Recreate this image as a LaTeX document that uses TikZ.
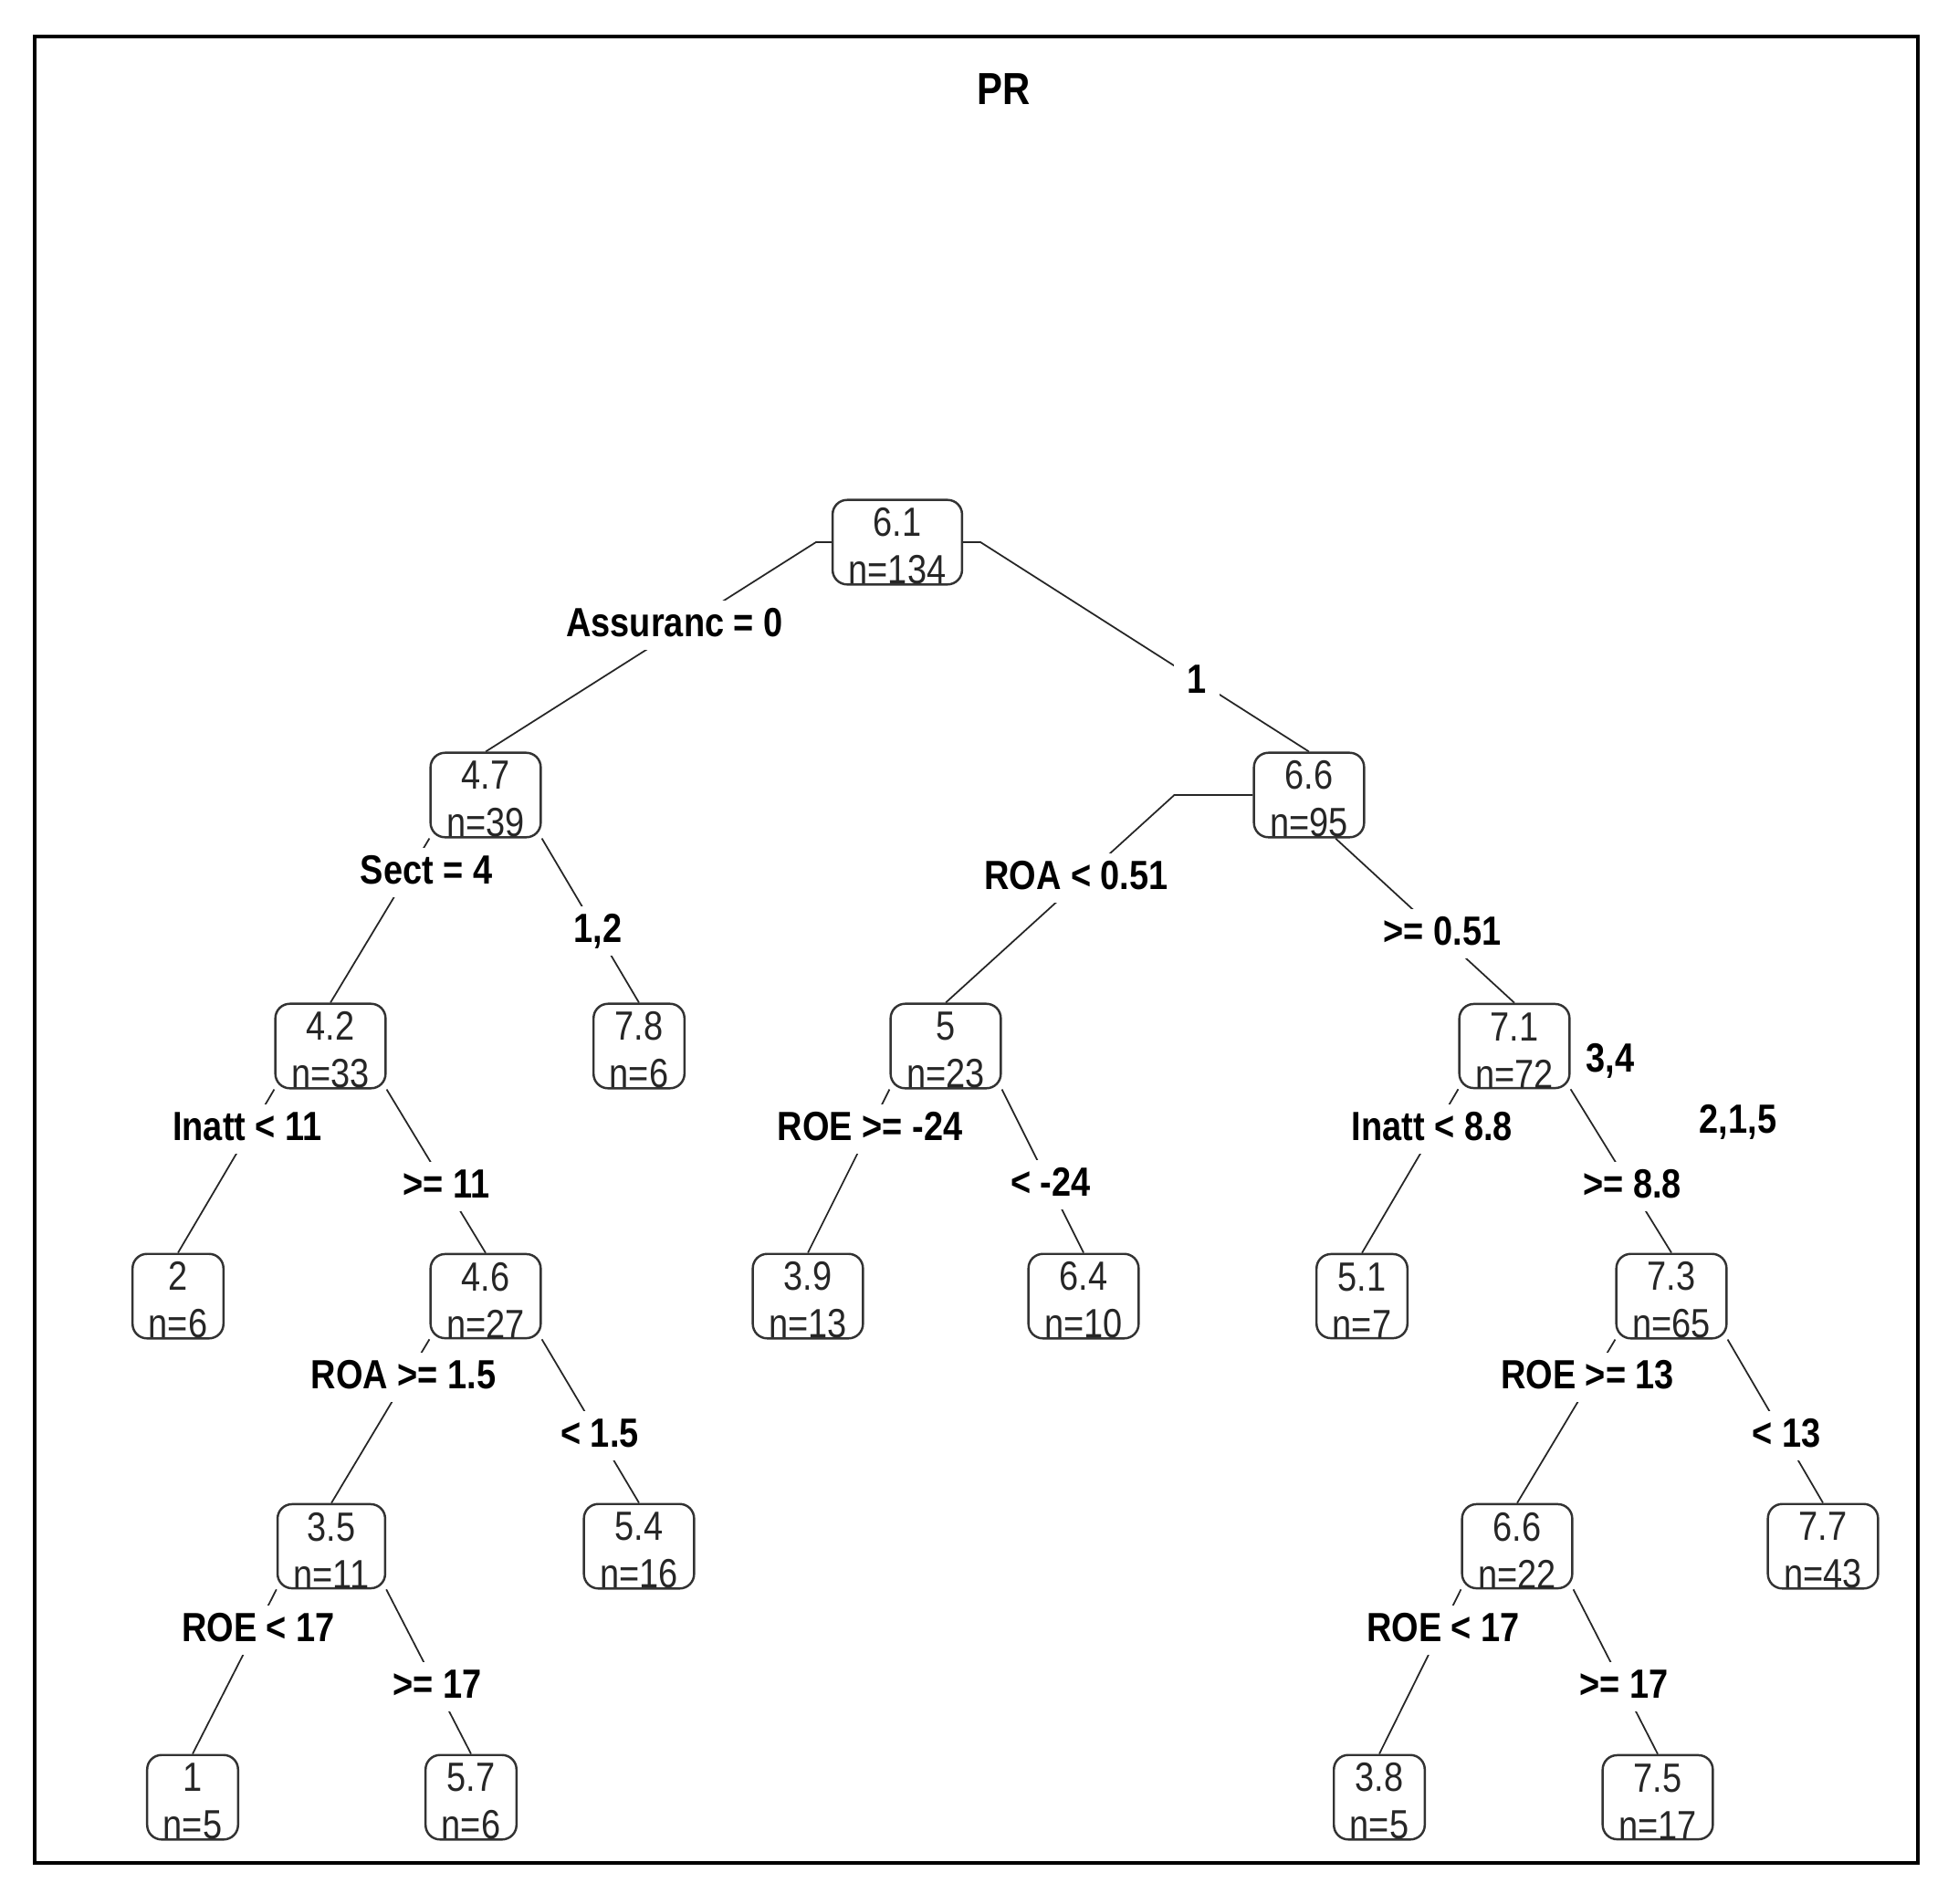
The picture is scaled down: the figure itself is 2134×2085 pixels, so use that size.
\documentclass[tikz,border=0pt]{standalone}
\usepackage{fontspec}
\setmainfont{Liberation Sans}[FakeStretch=0.85]
\usepackage{tikz}
\usetikzlibrary{calc, positioning, backgrounds}

\newcommand{\nodetxt}[2]{\rule{0pt}{11.4pt}#1\\n=#2}

\begin{document}
\begin{tikzpicture}[x=0.01cm, y=-0.01cm,
    box/.style={draw=black!80, fill=white, rounded corners=4.5pt, line width=0.7pt,
        inner xsep=5pt, inner ysep=0pt, align=center, text=black!85,
        font=\fontsize{12.7}{14.8}\selectfont},
    cond/.style={fill=white, inner sep=4pt, text height=0.72em, text depth=0pt,
        font=\bfseries\fontsize{12.7}{14.8}\selectfont},
    branch/.style={line width=0.5pt, black!85}]
    \useasboundingbox (0,0) rectangle (2134,2085);

    % Khung và tiêu đề
    \draw[line width=1pt] (38,40) rectangle (2101,2041);
    \node[font=\bfseries\fontsize{14}{16}\selectfont] (title) at (1100,98) {PR};

    % Các nút của cây
    \node[box] (n61) at (983,594) {\nodetxt{6.1}{134}};
    \node[box] (n47) at (532,871) {\nodetxt{4.7}{39}};
    \node[box] (n66) at (1434,871) {\nodetxt{6.6}{95}};
    \node[box] (n42) at (362,1146) {\nodetxt{4.2}{33}};
    \node[box] (n78) at (700,1146) {\nodetxt{7.8}{6}};
    \node[box] (n5) at (1036,1146) {\nodetxt{5}{23}};
    \node[box] (n71) at (1659,1146) {\nodetxt{7.1}{72}};
    \node[box] (n2) at (195,1420) {\nodetxt{2}{6}};
    \node[box] (n46) at (532,1420) {\nodetxt{4.6}{27}};
    \node[box] (n39) at (885,1420) {\nodetxt{3.9}{13}};
    \node[box] (n64) at (1187,1420) {\nodetxt{6.4}{10}};
    \node[box] (n51) at (1492,1420) {\nodetxt{5.1}{7}};
    \node[box] (n73) at (1831,1420) {\nodetxt{7.3}{65}};
    \node[box] (n35) at (363,1694) {\nodetxt{3.5}{11}};
    \node[box] (n54) at (700,1694) {\nodetxt{5.4}{16}};
    \node[box] (n66b) at (1662,1694) {\nodetxt{6.6}{22}};
    \node[box] (n77) at (1997,1694) {\nodetxt{7.7}{43}};
    \node[box] (n1) at (211,1969) {\nodetxt{1}{5}};
    \node[box] (n57) at (516,1969) {\nodetxt{5.7}{6}};
    \node[box] (n38) at (1511,1969) {\nodetxt{3.8}{5}};
    \node[box] (n75) at (1816,1969) {\nodetxt{7.5}{17}};

    % Điểm gấp của các nhánh
    \coordinate (k1) at ($(n61.west)+(-17,0)$);
    \coordinate (k2) at ($(n61.east)+(19,0)$);
    \coordinate (k3) at ($(n66.west)+(-86,0)$);
    \coordinate (k4) at ($(n66.south)+(29,0)$);

    % Các nhánh
    \begin{scope}[on background layer]
    \draw[branch] (n61.west) -- (k1) -- (n47.north);
    \draw[branch] (n61.east) -- (k2) -- (n66.north);
    \draw[branch] (n66.west) -- (k3) -- (n5.north);
    \draw[branch] (k4) -- (n71.north);
    \draw[branch] (n47.south west) -- (n42.north);
    \draw[branch] (n47.south east) -- (n78.north);
    \draw[branch] (n42.south west) -- (n2.north);
    \draw[branch] (n42.south east) -- (n46.north);
    \draw[branch] (n5.south west) -- (n39.north);
    \draw[branch] (n5.south east) -- (n64.north);
    \draw[branch] (n71.south west) -- (n51.north);
    \draw[branch] (n71.south east) -- (n73.north);
    \draw[branch] (n46.south west) -- (n35.north);
    \draw[branch] (n46.south east) -- (n54.north);
    \draw[branch] (n73.south west) -- (n66b.north);
    \draw[branch] (n73.south east) -- (n77.north);
    \draw[branch] (n35.south west) -- (n1.north);
    \draw[branch] (n35.south east) -- (n57.north);
    \draw[branch] (n66b.south west) -- (n38.north);
    \draw[branch] (n66b.south east) -- (n75.north);
    \end{scope}

    % Nhãn điều kiện
    \node[cond] (lassur) at (739,685) {Assuranc = 0};
    \node[cond] (lone) at (1311,747) {1};
    \node[cond] (lsect) at (467,956) {Sect = 4};
    \node[cond] (lsectr) at (655,1020) {1,2};
    \node[cond] (lroa) at (1179,962) {ROA < 0.51};
    \node[cond] (lroar) at (1580,1023) {>= 0.51};
    \node[cond] (linatt) at (271,1237) {Inatt < 11};
    \node[cond] (linattr) at (489,1300) {>= 11};
    \node[cond] (lroe) at (953,1237) {ROE >= -24};
    \node[cond] (lroer) at (1151,1298) {< -24};
    \node[cond] (linattb) at (1569,1237) {Inatt < 8.8};
    \node[cond] (linattbr) at (1788,1300) {>= 8.8};
    \node[cond] (lsecta) at (1764,1162) {3,4};
    \node[cond] (lsectb) at (1904,1229) {2,1,5};
    \node[cond] (lroab) at (442,1509) {ROA >= 1.5};
    \node[cond] (lroabr) at (657,1573) {< 1.5};
    \node[cond] (lroec) at (1739,1509) {ROE >= 13};
    \node[cond] (lroecr) at (1957,1573) {< 13};
    \node[cond] (lroed) at (283,1786) {ROE < 17};
    \node[cond] (lroedr) at (479,1848) {>= 17};
    \node[cond] (lroee) at (1581,1786) {ROE < 17};
    \node[cond] (lroeer) at (1779,1848) {>= 17};
\end{tikzpicture}
\end{document}
